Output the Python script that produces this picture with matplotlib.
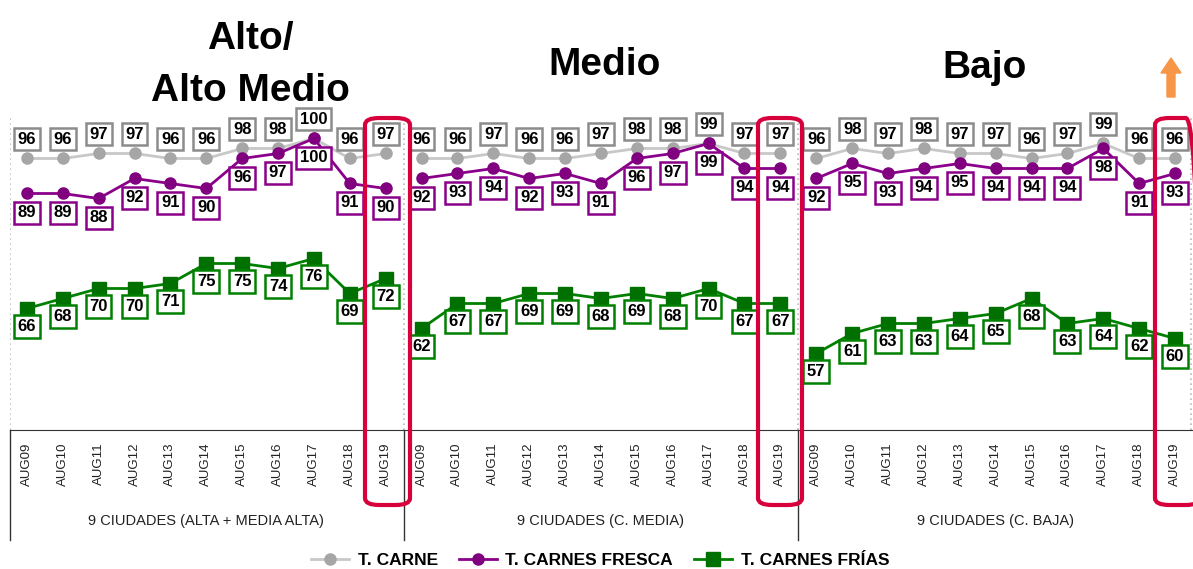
import numpy as np
import matplotlib.pyplot as plt
from matplotlib.patches import FancyBboxPatch, FancyArrow
from matplotlib.lines import Line2D

# ======================================================
# Data
# ======================================================

years = ["AUG09", "AUG10", "AUG11", "AUG12", "AUG13", "AUG14",
         "AUG15", "AUG16", "AUG17", "AUG18", "AUG19"]

groups = ["9 CIUDADES (ALTA + MEDIA ALTA)",
          "9 CIUDADES (C. MEDIA)",
          "9 CIUDADES (C. BAJA)"]

titles = ["Alto/\nAlto Medio", "Medio", "Bajo"]

carne = [
    [96, 96, 97, 97, 96, 96, 98, 98, 100, 96, 97],
    [96, 96, 97, 96, 96, 97, 98, 98, 99, 97, 97],
    [96, 98, 97, 98, 97, 97, 96, 97, 99, 96, 96],
]
fresca = [
    [89, 89, 88, 92, 91, 90, 96, 97, 100, 91, 90],
    [92, 93, 94, 92, 93, 91, 96, 97, 99, 94, 94],
    [92, 95, 93, 94, 95, 94, 94, 94, 98, 91, 93],
]
frias = [
    [66, 68, 70, 70, 71, 75, 75, 74, 76, 69, 72],
    [62, 67, 67, 69, 69, 68, 69, 68, 70, 67, 67],
    [57, 61, 63, 63, 64, 65, 68, 63, 64, 62, 60],
]

# ======================================================
# Style
# ======================================================

plt.rcParams['font.family'] = ['Liberation Sans Narrow', 'Liberation Sans', 'DejaVu Sans']

W, H = 1193, 569
fig = plt.figure(figsize=(W/100, H/100), dpi=100)

x_left, x_right = 10, 1193
y_top, y_bot = 118, 430
ax = fig.add_axes([x_left/W, 1-y_bot/H, (x_right-x_left)/W, (y_bot-y_top)/H])

n = len(years)
ax.set_xlim(-0.47, 3*n - 0.5)
ax.set_ylim(41.7, 104.1)

series = [
    (carne, 'T. CARNE', '#C8C8C8', '#A6A6A6', 'o', 8, '#8C8C8C', 14),
    (fresca, 'T. CARNES FRESCA', '#8B008B', '#800080', 'o', 8, '#8B008B', -14),
    (frias, 'T. CARNES FRÍAS', '#008000', '#007000', 's', 10, '#008000', -13),
]

for data, name, lc, mc, mk, ms, bc, off in series:
    for g in range(3):
        xs = np.arange(n) + g*n
        ax.plot(xs, data[g], '-', color=lc, lw=2, marker=mk, ms=ms,
                mfc=mc, mec=mc, label=name if g == 0 else None, zorder=3)
        for x, v in zip(xs, data[g]):
            ax.annotate(str(v), (x, v), xytext=(0, off), textcoords='offset points',
                        ha='center', va='center', fontsize=12, fontweight='bold',
                        bbox=dict(boxstyle='square,pad=0.22', fc='white', ec=bc, lw=1.8),
                        zorder=5)

# spines
for s in ['top', 'right', 'left']:
    ax.spines[s].set_visible(False)
ax.spines['bottom'].set_color('#333333')
ax.set_yticks([])

ticks = np.arange(3*n)
ax.set_xticks(ticks)
ax.set_xticklabels(years*3, rotation=90, fontsize=9.5, color='#222222')
ax.tick_params(axis='x', length=0, pad=9)

# dotted group separators in plot area
for xb in [-0.47, n - 0.5, 2*n - 0.5, 3*n - 0.55]:
    ax.axvline(xb, color='#BBBBBB', ls=(0, (1, 2)), lw=1.2, zorder=1)

# solid separators below the axis
trans = ax.get_xaxis_transform()
for xb in [-0.47, n - 0.5, 2*n - 0.5]:
    ax.add_line(Line2D([xb, xb], [0, -110/312], transform=trans, color='#333333',
                       lw=1, clip_on=False))

for g in range(3):
    ax.text(g*n + (n-1)/2, -91/312, groups[g], transform=trans, ha='center',
            va='center', fontsize=10.5, color='#222222')

# titles
title_pos = [(250, 65), (605, 65), (985, 68)]
for t, (tx, ty) in zip(titles, title_pos):
    fig.text(tx/W, 1-ty/H, t, ha='center', va='center', fontsize=28,
             fontweight='bold', family=['Liberation Sans', 'DejaVu Sans'],
             linespacing=1.55)

# orange arrow
fig.patches.append(FancyArrow(1171/W, 1-97/H, 0, 39/H, width=8/W, head_width=20/W,
                              head_length=15/H, length_includes_head=True,
                              color='#F79646', transform=fig.transFigure))

# red highlight boxes
for x0, x1 in [(365, 410), (758, 802), (1155, 1200)]:
    fig.patches.append(FancyBboxPatch((x0/W, 1-505/H), (x1-x0)/W, 387/H,
                                      boxstyle='round,pad=0,rounding_size=0.012',
                                      fc='none', ec='#D8003C', lw=3,
                                      transform=fig.transFigure, zorder=10))

leg = fig.legend(loc='center', bbox_to_anchor=(600/W, 1-560/H), ncol=3,
                 frameon=False, fontsize=12.5, handlelength=2.2, columnspacing=1.2,
                 handletextpad=0.5)
for t in leg.get_texts():
    t.set_fontweight('bold')

fig.savefig('out.png', dpi=100)
